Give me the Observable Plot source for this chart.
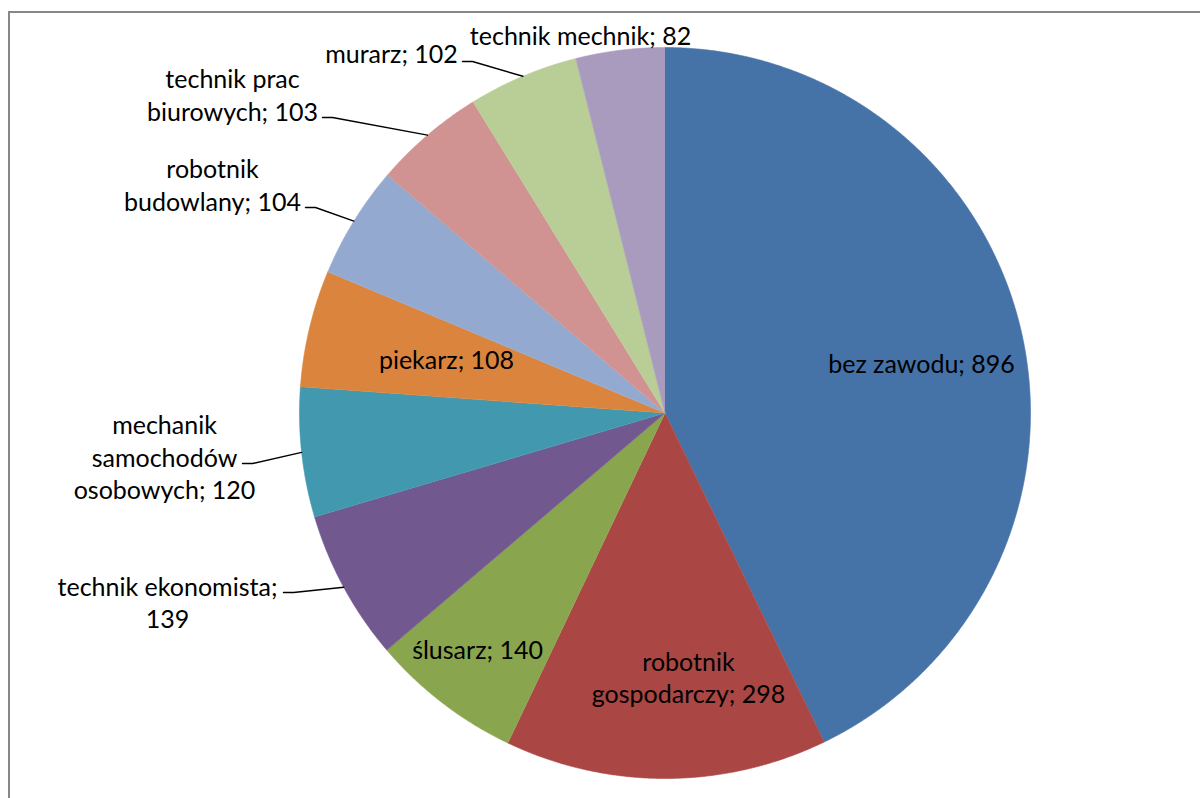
<!DOCTYPE html>
<html>
<head>
<meta charset="utf-8">
<script src="https://cdn.jsdelivr.net/npm/d3@7"></script>
<script src="https://cdn.jsdelivr.net/npm/@observablehq/plot@0.6"></script>
<style>
  html, body { margin: 0; padding: 0; background: #fff; overflow: hidden; }
  #wrap { position: relative; width: 1200px; height: 798px; overflow: hidden; }
  #border { position: absolute; left: 8px; top: 11px; width: 1400px; height: 1000px;
            border-left: 2px solid #878787; border-top: 2px solid #878787; pointer-events: none; }
  svg { display: block; }
</style>
</head>
<body>
<div id="wrap"><div id="chart"></div><div id="border"></div></div>
<script>
// ---- data ----
const categories = ["bez zawodu", "robotnik gospodarczy", "ślusarz", "technik ekonomista",
  "mechanik samochodów osobowych", "piekarz", "robotnik budowlany", "technik prac biurowych",
  "murarz", "technik mechnik"];
const values = [896, 298, 140, 139, 120, 108, 104, 103, 102, 82];
const colors = ["#4572A7", "#AA4643", "#89A54E", "#71588F", "#4198AF",
  "#DB843D", "#93A9CF", "#D19392", "#B9CD96", "#A99BBD"];

// ---- layout (not data) ----
const W = 1200, H = 798;
const cx = 664.5, cy = 412.5, R = 365.5;
// words per line in each label
const labelBreaks = [[3], [1, 2], [2], [2, 1], [1, 1, 2], [2], [1, 2], [2, 2], [2], [3]];
// label block centres relative to pie centre
const labelOffset = [[256.5, -50.5], [23.5, 263.5], [-187.5, 235.5], [-497.5, 188.5], [-500.5, 43.5],
  [-218.5, -54.5], [-452.5, -229], [-432.5, -319], [-273.5, -360.5], [-84.5, -378.5]];
// leader line start (relative to pie centre), null = no leader
const leaderStart = [null, null, null, [-381.5, 179.5], [-422.5, 50.5], null,
  [-359.5, -205.5], [-342.5, -295.5], [-202.5, -351.5], null];

const pie = d3.pie().sort(null).value(d => d.value).startAngle(0).endAngle(2 * Math.PI);
const rows = categories.map((name, i) => ({name, value: values[i], i}));
const arcs = pie(rows);

const polar = (a, r) => [cx + r * Math.sin(a), cy - r * Math.cos(a)];

// slice polygons
const slicePts = [];
for (const a of arcs) {
  const n = Math.max(2, Math.ceil((a.endAngle - a.startAngle) / (Math.PI / 720)));
  slicePts.push({name: a.data.name, x: cx, y: cy});
  for (let k = 0; k <= n; k++) {
    const ang = a.startAngle + (a.endAngle - a.startAngle) * k / n;
    const [x, y] = polar(ang, R);
    slicePts.push({name: a.data.name, x, y});
  }
}

// labels
const labels = arcs.map((a, i) => {
  const words = `${a.data.name}; ${a.data.value}`.split(" ");
  const lines = [];
  let p = 0;
  for (const c of labelBreaks[i]) { lines.push(words.slice(p, p + c).join(" ")); p += c; }
  return {text: lines.join("\n"), x: cx + labelOffset[i][0], y: cy + labelOffset[i][1]};
});

// leaders
const leaderPts = [];
arcs.forEach((a, i) => {
  const s = leaderStart[i];
  if (!s) return;
  const mid = (a.startAngle + a.endAngle) / 2;
  const [ex, ey] = polar(mid, R);
  leaderPts.push({k: i, x: cx + s[0], y: cy + s[1]});
  leaderPts.push({k: i, x: cx + s[0] + 10, y: cy + s[1]});
  leaderPts.push({k: i, x: ex, y: ey});
});

const chart = Plot.plot({
  width: W, height: H,
  margin: 0,
  style: {background: "white"},
  x: {type: "linear", domain: [0, W], range: [0, W], axis: null},
  y: {type: "linear", domain: [0, H], range: [0, H], axis: null},
  color: {type: "ordinal", domain: categories, range: colors},
  marks: [
    Plot.line(slicePts, {x: "x", y: "y", z: "name", fill: "name", stroke: "name", strokeWidth: 0.6}),
    Plot.line(leaderPts, {x: "x", y: "y", z: "k", stroke: "black", strokeWidth: 1.4}),
    Plot.text(labels, {x: "x", y: "y", text: "text", fill: "black", fontSize: 25,
      fontFamily: "Lato", lineHeight: 1.3, textAnchor: "middle"})
  ]
});
document.getElementById("chart").append(chart);
</script>
</body>
</html>
